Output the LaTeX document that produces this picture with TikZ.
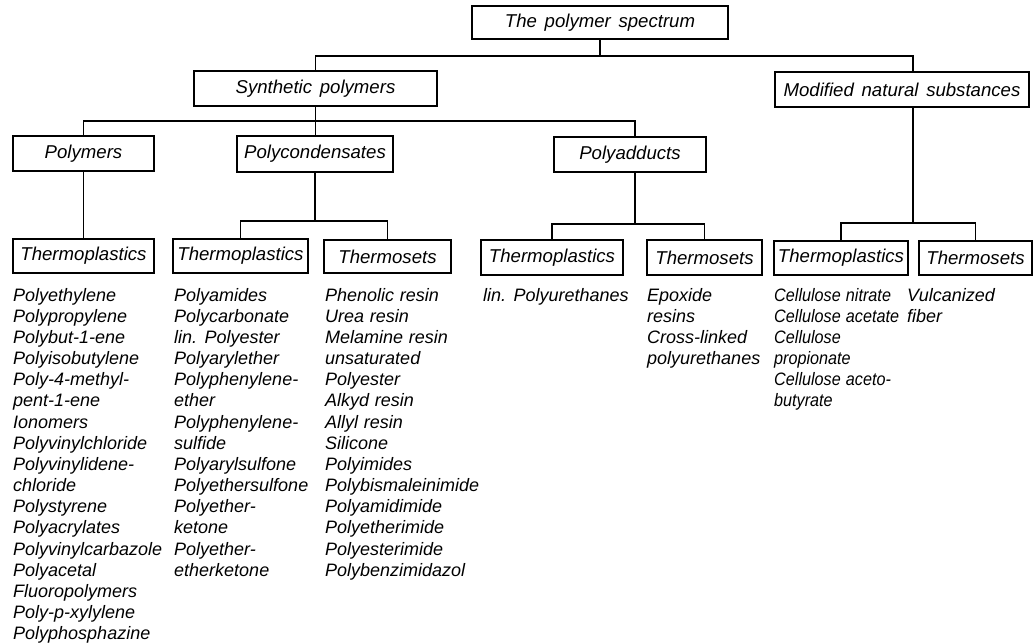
\documentclass[tikz,border=0pt]{standalone}
\usepackage{fontspec}
\setmainfont{Liberation Sans}[WordSpace=1.5]
\newfontfamily\listfont{Liberation Sans}[WordSpace=1.15]
\newfontfamily\narrowlistfont{Liberation Sans}[WordSpace=1.15, FakeStretch=0.9]
\begin{document}
\begin{tikzpicture}[x=1pt,y=-1pt,
  box/.style={draw, line width=2pt, inner sep=0pt, font=\fontsize{18.6}{20}\selectfont\itshape},
  conn/.style={line width=1.2pt},
  col/.style={anchor=north west, inner sep=0pt, align=left, font=\fontsize{18}{21.15}\selectfont\listfont\itshape}]
\fill[white] (0,0) rectangle (1034,643);
\useasboundingbox (0,0) rectangle (1034,643);
% boxes
\node[box, minimum width=256pt, minimum height=33pt] (top) at (600,22.5) {The polymer spectrum};
\node[box, minimum width=243pt, minimum height=35pt] (syn) at (315.5,88.5) {Synthetic polymers};
\node[box, minimum width=254pt, minimum height=35pt] (mod) at (902,89.5) {Modified natural substances};
\node[box, minimum width=141pt, minimum height=35pt] (poly) at (83.5,153.5) {Polymers};
\node[box, minimum width=156pt, minimum height=36pt] (polyc) at (315,154) {Polycondensates};
\node[box, minimum width=152pt, minimum height=35pt] (polya) at (630,154.5) {Polyadducts};
\node[box, minimum width=141pt, minimum height=34pt] (tpa) at (83.5,256) {Thermoplastics};
\node[box, minimum width=135pt, minimum height=34pt] (tpb) at (240.5,256) {Thermoplastics};
\node[box, minimum width=127pt, minimum height=33pt] (tsb) at (387.5,256.5) {Thermosets};
\node[box, minimum width=142pt, minimum height=35pt] (tpc) at (552,257.5) {Thermoplastics};
\node[box, minimum width=115pt, minimum height=35pt] (tsc) at (704.5,257.5) {Thermosets};
\node[box, minimum width=134pt, minimum height=34pt] (tpd) at (841,258) {Thermoplastics};
\node[box, minimum width=113pt, minimum height=34pt] (tsd) at (975.5,258) {Thermosets};
% junction coordinates
\coordinate (jtop) at (913,56);
\coordinate (jsyn) at (635,121);
\coordinate (jpc) at (315,221);
\coordinate (jpa) at (635,224);
\coordinate (jmod) at (913,223);
% connectors
\draw[conn] (top.south) -- (top.south |- jtop);
\draw[conn] (syn.north) |- (jtop) -- (jtop |- mod.north);
\draw[conn] (syn.south) -- (syn.south |- jsyn);
\draw[conn] (poly.north) |- (jsyn) -- (jsyn |- polya.north);
\draw[conn] (syn.south |- jsyn) -- (syn.south |- polyc.north);
\draw[conn] (poly.south) -- (tpa.north);
\draw[conn] (polyc.south) -- (jpc);
\draw[conn] (tpb.north) |- (jpc) -| (tsb.north);
\draw[conn] (jpa |- polya.south) -- (jpa);
\draw[conn] (tpc.north) |- (jpa) -| (tsc.north);
\draw[conn] (jmod |- mod.south) -- (jmod);
\draw[conn] (tpd.north) |- (jmod) -| (tsd.north);
% lists
\node[col] (la) at (13,287) {\rule{0pt}{14pt}Polyethylene\\Polypropylene\\Polybut-1-ene\\Polyisobutylene\\Poly-4-methyl-\\pent-1-ene\\Ionomers\\Polyvinylchloride\\Polyvinylidene-\\chloride\\Polystyrene\\Polyacrylates\\Polyvinylcarbazole\\Polyacetal\\Fluoropolymers\\Poly-p-xylylene\\Polyphosphazine};
\node[col] (lb) at (174,287) {\rule{0pt}{14pt}Polyamides\\Polycarbonate\\lin. Polyester\\Polyarylether\\Polyphenylene-\\ether\\Polyphenylene-\\sulfide\\Polyarylsulfone\\Polyethersulfone\\Polyether-\\ketone\\Polyether-\\etherketone};
\node[col] (lc) at (325,287) {\rule{0pt}{14pt}Phenolic resin\\Urea resin\\Melamine resin\\unsaturated\\Polyester\\Alkyd resin\\Allyl resin\\Silicone\\Polyimides\\Polybismaleinimide\\Polyamidimide\\Polyetherimide\\Polyesterimide\\Polybenzimidazol};
\node[col] (ld) at (483,287) {\rule{0pt}{14pt}lin. Polyurethanes};
\node[col] (le) at (647,287) {\rule{0pt}{14pt}Epoxide\\resins\\Cross-linked\\polyurethanes};
\node[col, font=\fontsize{18}{21.15}\selectfont\narrowlistfont\itshape] (lf) at (774,287) {\rule{0pt}{14pt}Cellulose nitrate\\Cellulose acetate\\Cellulose\\propionate\\Cellulose aceto-\\butyrate};
\node[col] (lg) at (907,287) {\rule{0pt}{14pt}Vulcanized\\fiber};
\end{tikzpicture}
\end{document}
